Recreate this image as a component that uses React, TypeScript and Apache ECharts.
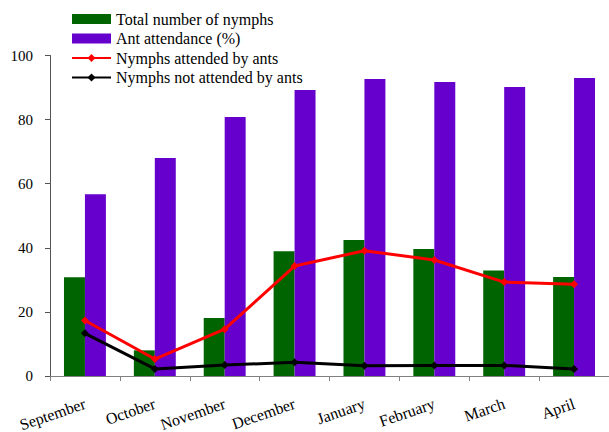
import React, { useEffect, useRef } from "react";
import * as echarts from "echarts";

const months = ["September", "October", "November", "December", "January", "February", "March", "April"];
const totalNymphs = [30.8, 8.0, 18.1, 38.9, 42.4, 39.6, 32.9, 30.9];
const antAttendance = [56.7, 68.0, 80.8, 89.2, 92.7, 91.7, 90.2, 93.0];
const attended = [17.3, 5.3, 14.6, 34.3, 39.1, 36.2, 29.3, 28.6];
const notAttended = [13.3, 2.2, 3.4, 4.3, 3.2, 3.3, 3.3, 2.2];
const yTicks = [0, 20, 40, 60, 80, 100];

const FONT = "Liberation Serif";

export default function App() {
  const ref = useRef<HTMLDivElement>(null);
  useEffect(() => {
    if (!ref.current) return;
    const chart = echarts.init(ref.current, null, { renderer: "svg" });
    chart.setOption({
      animation: false,
      backgroundColor: "#fff",
      textStyle: { fontFamily: FONT },
      legend: {
        orient: "vertical",
        left: 71,
        top: 11,
        itemWidth: 39,
        itemHeight: 10,
        itemGap: 3.5,
        padding: 0,
        textStyle: { fontFamily: FONT, fontSize: 16, color: "#000" },
        data: [
          { name: "Total number of nymphs", icon: "rect" },
          { name: "Ant attendance (%)", icon: "rect" },
          { name: "Nymphs attended by ants" },
          { name: "Nymphs not attended by ants" },
        ],
      },
      grid: { left: 50, right: 0, top: 55.5, bottom: 56, containLabel: false, outerBoundsMode: "none" },
      xAxis: {
        type: "category",
        data: months,
        axisLine: { lineStyle: { color: "#808080", width: 1 } },
        axisTick: { show: true, length: 5, lineStyle: { color: "#808080" } },
        axisLabel: { rotate: 19, fontFamily: FONT, fontSize: 16, color: "#000", margin: 27, interval: 0 },
      },
      yAxis: {
        type: "value",
        min: yTicks[0],
        max: yTicks[yTicks.length - 1],
        interval: 20,
        splitLine: { show: false },
        axisLine: { show: true, lineStyle: { color: "#555", width: 1 } },
        axisTick: { show: true, length: 5, lineStyle: { color: "#555" } },
        axisLabel: { fontFamily: FONT, fontSize: 15, color: "#000", margin: 17 },
      },
      series: [
        {
          name: "Total number of nymphs",
          type: "bar",
          data: totalNymphs,
          itemStyle: { color: "#006400" },
          barGap: "0%",
          barCategoryGap: "40%",
        },
        {
          name: "Ant attendance (%)",
          type: "bar",
          data: antAttendance,
          itemStyle: { color: "#6600CC" },
          barGap: "0%",
          barCategoryGap: "40%",
        },
        {
          name: "Nymphs attended by ants",
          type: "line",
          data: attended,
          symbol: "diamond",
          symbolSize: 8,
          lineStyle: { color: "#FF0000", width: 3 },
          itemStyle: { color: "#FF0000" },
        },
        {
          name: "Nymphs not attended by ants",
          type: "line",
          data: notAttended,
          symbol: "diamond",
          symbolSize: 8,
          lineStyle: { color: "#000", width: 3 },
          itemStyle: { color: "#000" },
        },
      ],
    });
    return () => chart.dispose();
  }, []);
  return <div ref={ref} style={{ width: 609, height: 432, position: "absolute", left: 0, top: 0 }} />;
}
